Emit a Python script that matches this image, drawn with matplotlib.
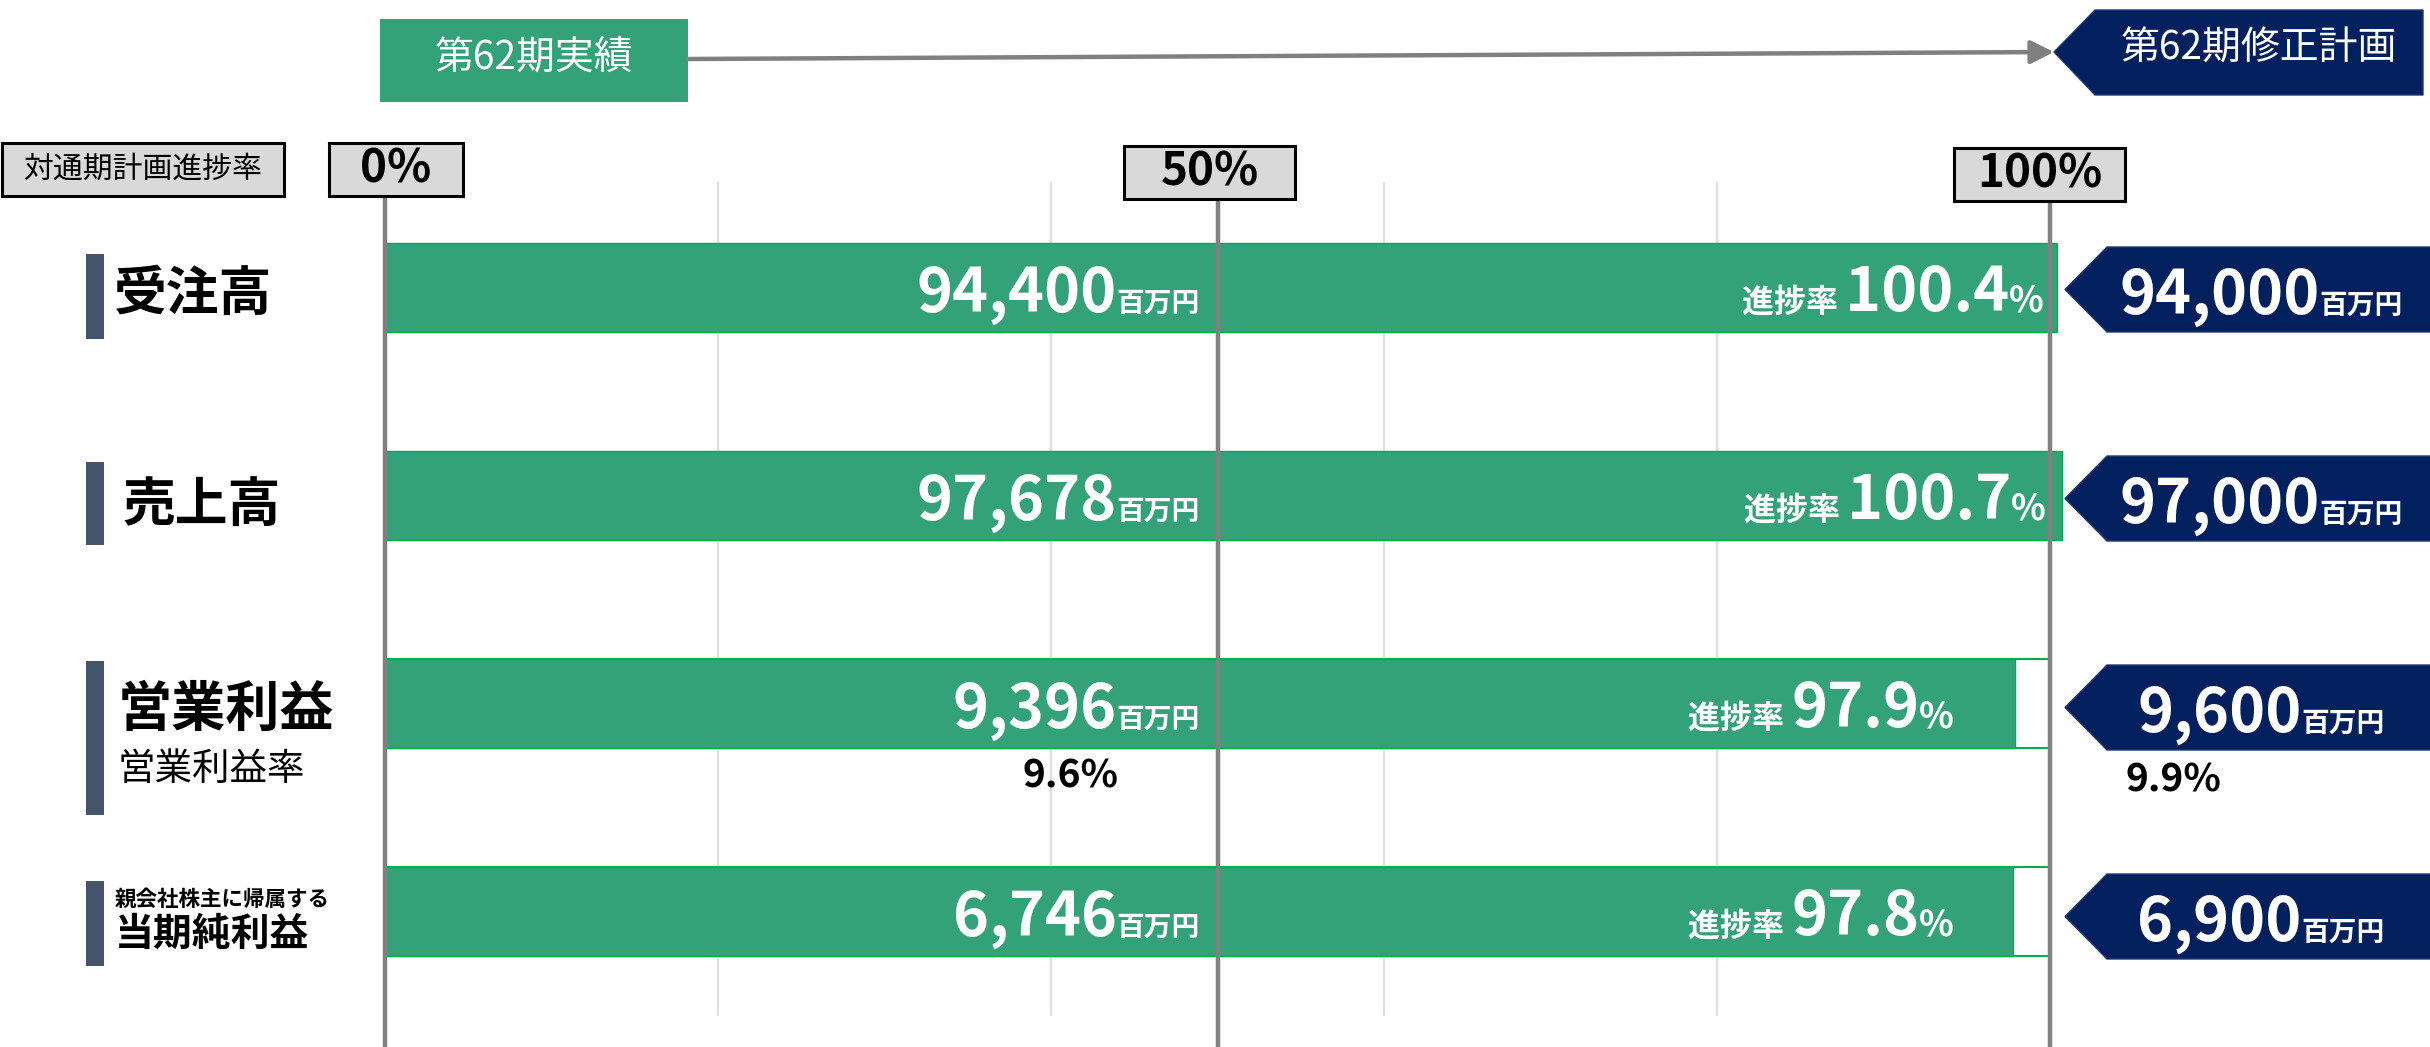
import matplotlib
matplotlib.use("Agg")
import matplotlib.pyplot as plt
from matplotlib.patches import Rectangle, Polygon
import numpy as np

plt.rcParams['font.family'] = ['Noto Sans CJK JP', 'DejaVu Sans']

# data
items = ["受注高", "売上高", "営業利益", "当期純利益"]
actual = [94400, 97678, 9396, 6746]          # 百万円
plan = [94000, 97000, 9600, 6900]            # 百万円
rate = [100.4, 100.7, 97.9, 97.8]            # 進捗率 %
margin_actual = "9.6%"
margin_plan = "9.9%"
ticks = [0, 50, 100]
grid_ticks = [20, 40, 60, 80]

GREEN = "#34a278"
EDGE = "#00b050"
NAVY = "#03205e"
SLATE = "#44546a"
LINE = "#808080"
BOXGRAY = "#d9d9d9"

W, H = 2430, 1047
fig = plt.figure(figsize=(W / 100, H / 100), dpi=100)
ax = fig.add_axes([0, 0, 1, 1])
ax.axis("off")

# x: 0% at px 385, 100% at px 2050 ; y: row pitch 208 px, first row centre at 287.5 px
X0, XSPAN = 385.0, 1665.0
Y0, YSTEP = 287.5, 208.0
ax.set_xlim(-X0 / XSPAN * 100, (W - X0) / XSPAN * 100)
ax.set_ylim((H - Y0) / YSTEP, -Y0 / YSTEP)


def px(x):
    return (x - X0) / XSPAN * 100


def py(y):
    return (y - Y0) / YSTEP


rows = np.arange(len(items))
bar_h = 89 / YSTEP
base = 24 / YSTEP   # baseline offset of big numbers below the row centre

# light grid and main lines
for g in grid_ticks:
    ax.plot([g, g], [py(183), py(1015)], color="#d9d9d9", lw=1.2, zorder=1)
for t in ticks:
    ax.plot([t, t], [py(199), py(H)], color=LINE, lw=3.2, zorder=5)

# bars: outline to 100% where not reached, then actual progress
for i, r in enumerate(rate):
    if r < 100:
        ax.add_patch(Rectangle((0, i - bar_h / 2), 100, bar_h, facecolor="white",
                               edgecolor=EDGE, lw=1.5, zorder=2))
ax.barh(rows, rate, height=bar_h, left=0, color=GREEN, edgecolor=EDGE, lw=1.0, zorder=3)


def right_pair(x, y, big, small, bsize, ssize, color="white"):
    s = ax.text(x, y, small, ha="right", va="baseline", fontsize=ssize,
                fontweight="bold", color=color, zorder=6)
    b = ax.annotate(big, xy=(0, y), xycoords=(s, "data"), ha="right", va="baseline",
                    fontsize=bsize, fontweight="bold", color=color, zorder=6)
    return b, s


# actual values inside bars
for i, v in enumerate(actual):
    right_pair(px(1200), i + base, f"{v:,}", "百万円", 44, 20)

# progress rates
rate_right = [px(2044), px(2046), px(1954), px(1954)]
for i, r in enumerate(rate):
    pct = ax.text(rate_right[i], i + base, "%", ha="right", va="baseline",
                  fontsize=26, fontweight="bold", color="white", zorder=6)
    num = ax.annotate(f"{r:.1f}", xy=(0, i + base), xycoords=(pct, "data"),
                      ha="right", va="baseline", fontsize=44, fontweight="bold",
                      color="white", zorder=6)
    ax.annotate("進捗率 ", xy=(0, i + base), xycoords=(num, "data"),
                ha="right", va="baseline", fontsize=23, fontweight="bold",
                color="white", zorder=6)

# plan pentagons on the right, value centred in the box
fig.canvas.draw()
rend = fig.canvas.get_renderer()
for i, v in enumerate(plan):
    c = i + (2 + i) / YSTEP
    top, bot = c - 85 / 2 / YSTEP, c + 85 / 2 / YSTEP
    ax.add_patch(Polygon([(px(2065), c), (px(2107), top), (px(W + 5), top),
                          (px(W + 5), bot), (px(2107), bot)], closed=True,
                         facecolor=NAVY, edgecolor="#1f3a73", lw=1, zorder=4))
    b, s = right_pair(px(2394), c + base, f"{v:,}", "百万円", 44, 20)
    fig.canvas.draw()
    x_left = b.get_window_extent(rend).x0
    x_right = s.get_window_extent(rend).x1
    shift = 2261 - (x_left + x_right) / 2
    s.set_x(px(2394 + shift))

# operating margin
ax.text(px(1070), py(776), margin_actual, ha="center", va="center",
        fontsize=28, fontweight="bold", color="black")
ax.text(px(2173), py(780), margin_plan, ha="center", va="center",
        fontsize=28, fontweight="bold", color="black")

# left row labels with slate markers
markers = [(254, 339), (462, 545), (661, 815), (881, 966)]
for (t, b) in markers:
    ax.add_patch(Rectangle((px(86), py(b)), px(104) - px(86), py(t) - py(b),
                           facecolor=SLATE, edgecolor="none"))
ax.text(px(114), py(294), items[0], ha="left", va="center", fontsize=38, fontweight="bold")
ax.text(px(122), py(505), items[1], ha="left", va="center", fontsize=38, fontweight="bold")
ax.text(px(118), py(710), items[2], ha="left", va="center", fontsize=39, fontweight="bold")
ax.text(px(118), py(769), "営業利益率", ha="left", va="center", fontsize=27)
ax.text(px(115), py(899), "親会社株主に帰属する", ha="left", va="center",
        fontsize=15.5, fontweight="bold")
ax.text(px(115), py(934), items[3], ha="left", va="center", fontsize=28, fontweight="bold")


# header boxes for the percentage scale
def gray_box(x1, x2, y1, y2, label, size, weight):
    ax.add_patch(Rectangle((px(x1), py(y2)), px(x2) - px(x1), py(y1) - py(y2),
                           facecolor=BOXGRAY, edgecolor="black", lw=2.2, zorder=6))
    ax.text((px(x1) + px(x2)) / 2, py((y1 + y2) / 2), label, ha="center",
            va="center", fontsize=size, fontweight=weight, zorder=7)


gray_box(2, 284, 143, 196, "対通期計画進捗率", 21.5, "normal")
tick_boxes = [(329, 463, 143, 196), (1124, 1295, 146, 199), (1954, 2125, 148, 201)]
for t, (x1, x2, y1, y2) in zip(ticks, tick_boxes):
    gray_box(x1, x2, y1, y2, f"{t}%", 33, "bold")

# top: actual -> revised plan
ax.add_patch(Rectangle((px(380), py(102)), px(688) - px(380), py(19) - py(102),
                       facecolor=GREEN, edgecolor="none"))
ax.text((px(380) + px(688)) / 2, py(58), "第62期実績", ha="center", va="center",
        fontsize=28, color="white")
ax.annotate("", xy=(px(2054), py(52)), xytext=(px(688), py(59)),
            arrowprops=dict(arrowstyle="-|>,head_length=1.4,head_width=0.7",
                            color=LINE, lw=3.2, shrinkA=0, shrinkB=0))
ax.add_patch(Polygon([(px(2054), py(52)), (px(2095), py(10)), (px(2423), py(10)),
                      (px(2423), py(95)), (px(2095), py(95))], closed=True,
                     facecolor=NAVY, edgecolor="#1f3a73", lw=1))
ax.text((px(2095) + px(2423)) / 2, py(49), "第62期修正計画", ha="center", va="center",
        fontsize=28, color="white")

fig.savefig("out.png", dpi=100)
